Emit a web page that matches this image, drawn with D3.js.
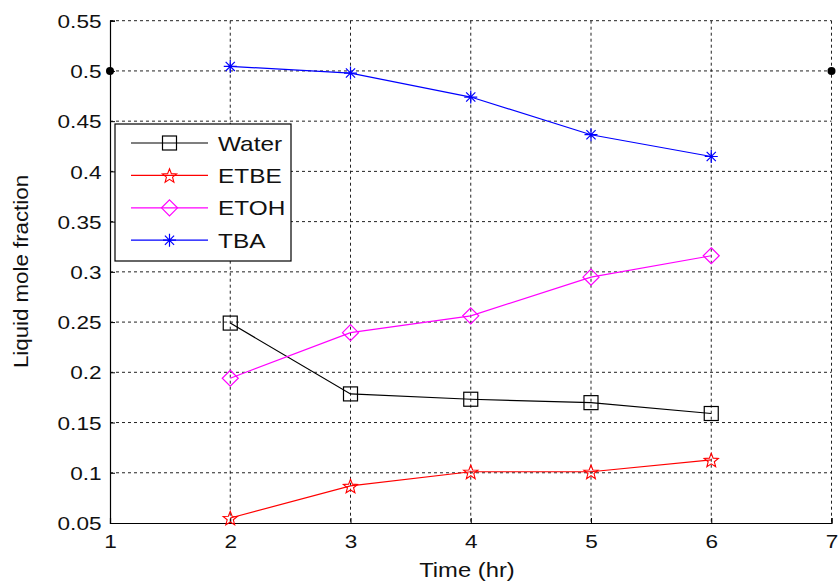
<!DOCTYPE html>
<html><head><meta charset="utf-8">
<script src="https://cdn.jsdelivr.net/npm/d3@7"></script>
<style>body{margin:0;background:#fff}svg{display:block}text{font-family:"Liberation Sans",Arial,sans-serif}</style>
</head><body><svg id="c" width="838" height="584"></svg>
<script>
const times = [2, 3, 4, 5, 6];
const water = [0.249, 0.1785, 0.1732, 0.1698, 0.159];
const etbe = [0.055, 0.0869, 0.101, 0.101, 0.1128];
const etoh = [0.1941, 0.2395, 0.2562, 0.2947, 0.316];
const tba = [0.5045, 0.4979, 0.474, 0.4365, 0.4148];
const extraX = [1, 7];
const extraY = [0.5, 0.5];
const xTicks = [1, 2, 3, 4, 5, 6, 7];
const yTicks = [0.05, 0.1, 0.15, 0.2, 0.25, 0.3, 0.35, 0.4, 0.45, 0.5, 0.55];
const seriesNames = ["Water", "ETBE", "ETOH", "TBA"];
const seriesColors = ["#000000", "#ff0000", "#ff00ff", "#0000ff"];
const seriesMarkers = ["square", "star", "diamond", "asterisk"];
const seriesData = [water, etbe, etoh, tba];

const svg = d3.select("#c");
const L = 110, R = 831.5, T = 20.7, B = 523;
const x = d3.scaleLinear().domain([1, 7]).range([L, R]);
const y = d3.scaleLinear().domain([0.05, 0.55]).range([B, T]);

function stretch(sel, f) {
  sel.each(function () {
    const w = this.getComputedTextLength();
    d3.select(this).attr("textLength", w * f).attr("lengthAdjust", "spacingAndGlyphs");
  });
}

// grid
const g = svg.append("g");
g.selectAll("line.gx").data(xTicks.slice(1)).join("line")
  .attr("x1", d => x(d)).attr("x2", d => x(d)).attr("y1", T).attr("y2", B)
  .attr("stroke", "#222").attr("stroke-width", 1).attr("stroke-dasharray", "3,3");
g.selectAll("line.gy").data(yTicks.slice(1)).join("line")
  .attr("x1", L).attr("x2", R).attr("y1", d => y(d)).attr("y2", d => y(d))
  .attr("stroke", "#222").attr("stroke-width", 1).attr("stroke-dasharray", "3,3");

// axes
const xAxis = d3.axisBottom(x).tickValues(xTicks).tickFormat(d3.format("d")).tickSize(-5).tickPadding(10);
const yAxis = d3.axisLeft(y).tickValues(yTicks).tickFormat(d => String(+d.toFixed(2))).tickSize(-5).tickPadding(8.5);
const xa = svg.append("g").attr("transform", `translate(0,${B})`).call(xAxis);
const ya = svg.append("g").attr("transform", `translate(${L},0)`).call(yAxis);
[xa, ya].forEach(a => {
  a.attr("font-size", null);
  a.select(".domain").attr("stroke", "#000").attr("stroke-width", 1.2);
  a.selectAll(".tick line").attr("stroke", "#000");
  a.selectAll(".tick text").attr("fill", "#111").style("font-size", "18.5px");
});
xa.selectAll(".tick text").attr("y", 25).attr("dy", null);
ya.selectAll(".tick text").attr("dy", "0.36em");
stretch(xa.selectAll(".tick text"), 1.22);
stretch(ya.selectAll(".tick text"), 1.22);

// titles
const xt = svg.append("text").attr("x", 467).attr("y", 577).attr("text-anchor", "middle")
  .style("font-size", "19.5px").attr("fill", "#111").text("Time (hr)");
stretch(xt, 1.22);
const yt = svg.append("text").attr("transform", `translate(28,271.5) rotate(-90)`)
  .attr("text-anchor", "middle").style("font-size", "21px").attr("fill", "#111").text("Liquid mole fraction");
stretch(yt, 1.06);

// marker drawing
function marker(sel, type, color, cx, cy) {
  if (type === "square") {
    sel.append("rect").attr("x", cx - 7).attr("y", cy - 7).attr("width", 14).attr("height", 14)
      .attr("fill", "none").attr("stroke", color).attr("stroke-width", 1.2);
  } else if (type === "diamond") {
    sel.append("path").attr("d", `M${cx},${cy - 8}L${cx + 8},${cy}L${cx},${cy + 8}L${cx - 8},${cy}Z`)
      .attr("fill", "none").attr("stroke", color).attr("stroke-width", 1.2);
  } else if (type === "star") {
    const pts = [];
    for (let i = 0; i < 10; i++) {
      const r = i % 2 === 0 ? 7.5 : 3.2;
      const a = -Math.PI / 2 + i * Math.PI / 5;
      pts.push([cx + r * Math.cos(a), cy + r * Math.sin(a) + 0.8]);
    }
    sel.append("path").attr("d", "M" + pts.map(p => p.join(",")).join("L") + "Z")
      .attr("fill", "none").attr("stroke", color).attr("stroke-width", 1.1);
  } else if (type === "asterisk") {
    const r = 6.5, d = 4.6;
    sel.append("path").attr("d", `M${cx - r},${cy}L${cx + r},${cy}M${cx},${cy - r}L${cx},${cy + r}M${cx - d},${cy - d}L${cx + d},${cy + d}M${cx - d},${cy + d}L${cx + d},${cy - d}`)
      .attr("stroke", color).attr("stroke-width", 1.2);
  }
}

// lines + markers
const line = d3.line().x(d => x(d[0])).y(d => y(d[1]));
seriesData.forEach((vals, i) => {
  const pts = times.map((t, j) => [t, vals[j]]);
  const sg = svg.append("g");
  sg.append("path").attr("d", line(pts)).attr("fill", "none").attr("stroke", seriesColors[i]).attr("stroke-width", 1.2);
  pts.forEach(p => marker(sg, seriesMarkers[i], seriesColors[i], x(p[0]), y(p[1])));
});

// extra black dots
extraX.forEach((xv, i) => {
  svg.append("circle").attr("cx", x(xv)).attr("cy", y(extraY[i])).attr("r", 4).attr("fill", "#000");
});

// legend
const lg = svg.append("g");
lg.append("rect").attr("x", 115).attr("y", 124).attr("width", 176).attr("height", 137)
  .attr("fill", "#fff").attr("stroke", "#000").attr("stroke-width", 1.2);
seriesNames.forEach((n, i) => {
  const cy = 143 + i * 32.4;
  lg.append("line").attr("x1", 131).attr("x2", 208).attr("y1", cy).attr("y2", cy)
    .attr("stroke", seriesColors[i]).attr("stroke-width", 1.2);
  marker(lg, seriesMarkers[i], seriesColors[i], 169.5, cy);
  const t = lg.append("text").attr("x", 218).attr("y", cy).attr("dy", "0.36em")
    .style("font-size", "21px").attr("fill", "#111").text(n);
  stretch(t, 1.16);
});
</script></body></html>
